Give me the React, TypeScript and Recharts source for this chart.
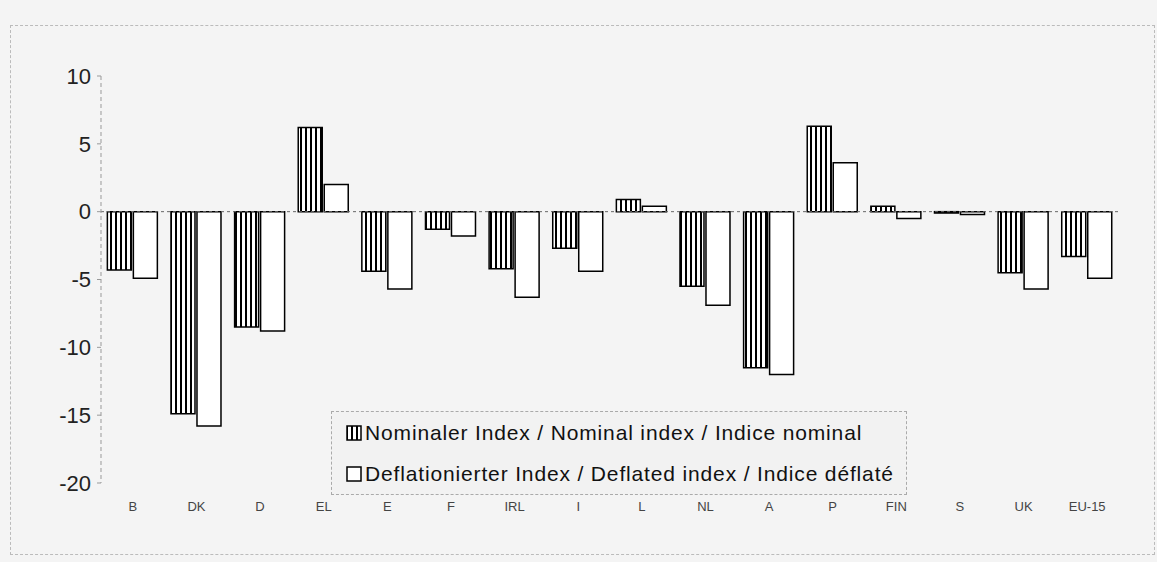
import React from 'react';
import { BarChart, Bar, XAxis, YAxis, ReferenceLine, Legend } from 'recharts';

const categories = ['B', 'DK', 'D', 'EL', 'E', 'F', 'IRL', 'I', 'L', 'NL', 'A', 'P', 'FIN', 'S', 'UK', 'EU-15'];
const nominal = [-4.3, -14.9, -8.5, 6.2, -4.4, -1.3, -4.2, -2.7, 0.9, -5.5, -11.5, 6.3, 0.4, -0.1, -4.5, -3.3];
const deflated = [-4.9, -15.8, -8.8, 2.0, -5.7, -1.8, -6.3, -4.4, 0.4, -6.9, -12.0, 3.6, -0.5, -0.2, -5.7, -4.9];
const yTicks = [10, 5, 0, -5, -10, -15, -20];
const seriesNames = [
  'Nominaler Index / Nominal index / Indice nominal',
  'Deflationierter Index / Deflated index / Indice déflaté',
];

const data = categories.map((c, i) => ({ name: c, nominal: nominal[i], deflated: deflated[i] }));

const FONT = '"Liberation Sans", Arial, sans-serif';

const LegendContent = () => (
  <div
    style={{
      width: 576,
      height: 84,
      border: '1px dashed #aaa',
      background: '#f2f2f2',
      fontFamily: FONT,
      fontSize: 21,
      letterSpacing: 0.85,
      color: '#111',
      boxSizing: 'border-box',
      paddingLeft: 14,
      whiteSpace: 'nowrap',
    }}
  >
    <div style={{ display: 'flex', alignItems: 'center', height: 42 }}>
      <svg width={16} height={16} style={{ marginRight: 3 }}>
        <rect x={1} y={1} width={14} height={14} fill="url(#stripes)" stroke="#000" strokeWidth={1.5} />
      </svg>
      <span>{seriesNames[0]}</span>
    </div>
    <div style={{ display: 'flex', alignItems: 'center', height: 40 }}>
      <svg width={16} height={16} style={{ marginRight: 3 }}>
        <rect x={1} y={1} width={14} height={14} fill="#fff" stroke="#000" strokeWidth={1.5} />
      </svg>
      <span>{seriesNames[1]}</span>
    </div>
  </div>
);

export default function App() {
  return (
    <div style={{ position: 'absolute', left: 0, top: 0, width: 1157, height: 562, background: '#f4f4f4' }}>
      <div
        style={{
          position: 'absolute',
          left: 10,
          top: 25,
          width: 1145,
          height: 530,
          border: '1px dashed #bbb',
          boxSizing: 'border-box',
        }}
      />
      <div style={{ position: 'absolute', left: 0, top: 0 }}>
        <BarChart
          width={1157}
          height={562}
          data={data}
          margin={{ top: 76, right: 38, bottom: 49, left: 20 }}
          barCategoryGap="10%"
          barGap={2}
        >
          <defs>
            <pattern id="stripes" patternUnits="userSpaceOnUse" width={5} height={5}>
              <rect x={0} y={0} width={5} height={5} fill="#fff" />
              <rect x={0} y={0} width={2} height={5} fill="#000" />
            </pattern>
          </defs>
          <XAxis
            dataKey="name"
            axisLine={false}
            tickLine={false}
            tickSize={0}
            tickMargin={19}
            height={30}
            interval={0}
            tick={{ fill: '#444', fontSize: 13, fontFamily: FONT }}
          />
          <YAxis
            domain={[-20, 10]}
            ticks={yTicks}
            interval={0}
            width={81}
            axisLine={{ stroke: '#999', strokeDasharray: '4 3' }}
            tickLine={{ stroke: '#999' }}
            tickSize={4}
            tickMargin={6}
            tick={{ fill: '#222', fontSize: 22, fontFamily: FONT }}
          />
          <ReferenceLine y={0} stroke="#666" strokeDasharray="3 3" />
          <Legend
            layout="horizontal"
            verticalAlign="middle"
            align="center"
            content={<LegendContent />}
            wrapperStyle={{ position: 'absolute', left: 331, top: 411, width: 576, height: 84 }}
          />
          <Bar
            dataKey="nominal"
            name={seriesNames[0]}
            fill="url(#stripes)"
            stroke="#000"
            strokeWidth={1.5}
            isAnimationActive={false}
          />
          <Bar
            dataKey="deflated"
            name={seriesNames[1]}
            fill="#fff"
            stroke="#000"
            strokeWidth={1.5}
            isAnimationActive={false}
          />
        </BarChart>
      </div>
    </div>
  );
}
